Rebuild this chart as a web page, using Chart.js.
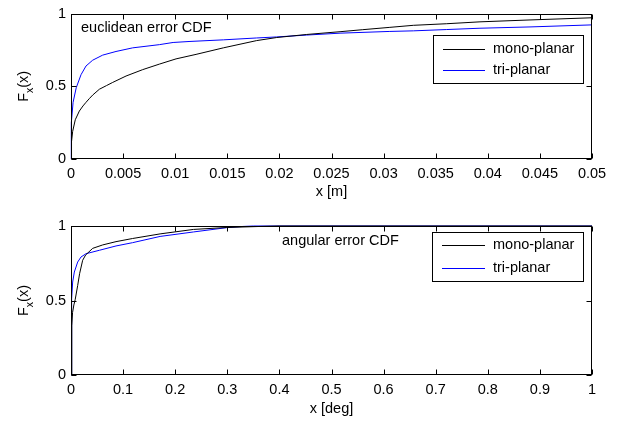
<!DOCTYPE html>
<html><head><meta charset="utf-8">
<script src="https://cdn.jsdelivr.net/npm/chart.js@4.4.0/dist/chart.umd.min.js"></script>
<style>
html,body{margin:0;padding:0;background:#fff;}
#wrap{position:relative;width:622px;height:425px;overflow:hidden;background:#fff;}
canvas{position:absolute;left:0;}
</style></head><body>
<div id="wrap">
<canvas id="c1" width="622" height="212" style="top:0px"></canvas>
<canvas id="c2" width="622" height="213" style="top:212px"></canvas>
</div>
<script>
// ---------- data ----------
const seriesNames = ['mono-planar', 'tri-planar'];

// euclidean error CDF (x in metres)
const euclidMonoX = [0, 0.00005, 0.00016, 0.00041, 0.0008, 0.00115, 0.00144, 0.00175, 0.00208, 0.00272, 0.0034, 0.004, 0.00528, 0.00688, 0.00848, 0.01008, 0.012, 0.01462, 0.01782, 0.01974, 0.02262, 0.02582, 0.028, 0.0306, 0.03285, 0.03606, 0.03925, 0.04405, 0.05];
const euclidMonoF = [0, 0.12, 0.19, 0.27, 0.33, 0.365, 0.39, 0.415, 0.44, 0.48, 0.505, 0.527, 0.571, 0.615, 0.653, 0.689, 0.72, 0.765, 0.815, 0.836, 0.857, 0.876, 0.89, 0.906, 0.92, 0.931, 0.944, 0.957, 0.972];
const euclidTriX = [0, 0.00003, 0.0002, 0.0005, 0.00096, 0.00144, 0.00208, 0.00304, 0.00432, 0.00592, 0.00848, 0.0098, 0.01142, 0.01462, 0.01782, 0.01974, 0.02262, 0.02582, 0.0306, 0.03285, 0.03606, 0.03925, 0.04405, 0.05];
const euclidTriF = [0, 0.25, 0.39, 0.49, 0.58, 0.64, 0.68, 0.715, 0.74, 0.765, 0.787, 0.802, 0.809, 0.82, 0.833, 0.84, 0.853, 0.866, 0.878, 0.882, 0.891, 0.9, 0.909, 0.923];

// angular error CDF (x in degrees)
const angMonoX = [0, 0.0015, 0.003, 0.0055, 0.008, 0.0128, 0.0165, 0.0224, 0.028, 0.0416, 0.0608, 0.0864, 0.118, 0.171, 0.235, 0.299, 0.363, 0.4, 1];
const angMonoF = [0, 0.33, 0.42, 0.47, 0.505, 0.6, 0.68, 0.77, 0.805, 0.85, 0.873, 0.895, 0.916, 0.947, 0.977, 0.99, 0.997, 1, 1];
const angTriX = [0, 0.0005, 0.0019, 0.0032, 0.0064, 0.0128, 0.0192, 0.0288, 0.0544, 0.0864, 0.118, 0.171, 0.235, 0.299, 0.33, 0.35, 1];
const angTriF = [0, 0.3, 0.512, 0.624, 0.691, 0.758, 0.792, 0.814, 0.837, 0.866, 0.888, 0.93, 0.96, 0.989, 0.997, 1, 1];

// ticks
const euclidTicks = [0, 0.005, 0.01, 0.015, 0.02, 0.025, 0.03, 0.035, 0.04, 0.045, 0.05];
const euclidTickLabels = ['0', '0.005', '0.01', '0.015', '0.02', '0.025', '0.03', '0.035', '0.04', '0.045', '0.05'];
const angTicks = [0, 0.1, 0.2, 0.3, 0.4, 0.5, 0.6, 0.7, 0.8, 0.9, 1];
const angTickLabels = ['0', '0.1', '0.2', '0.3', '0.4', '0.5', '0.6', '0.7', '0.8', '0.9', '1'];
const yTicks = [0, 0.5, 1];
const yTickLabels = ['0', '0.5', '1'];

const titles = { euclid: 'euclidean error CDF', ang: 'angular error CDF', xEuclid: 'x [m]', xAng: 'x [deg]' };
// ---------- end data ----------

const FAMILY = "'Liberation Sans', Arial, Helvetica, sans-serif";
const FS = 14.5;
const fontStr = (s) => s + 'px ' + FAMILY;
const colors = ['#000000', '#0000ff'];

function pts(xs, ys) { return xs.map((x, i) => ({ x: x, y: ys[i] })); }

const matlabPlugin = {
  id: 'matlab',
  afterDraw(chart, args, o) {
    const ctx = chart.ctx;
    const ca = chart.chartArea;
    const xs = chart.scales.x, ys = chart.scales.y;
    const L = Math.round(ca.left) + 0.5, R = Math.round(ca.right) - 0.5;
    const T = Math.round(ca.top) + 0.5, B = Math.round(ca.bottom) - 0.5;
    ctx.save();
    ctx.strokeStyle = '#000';
    ctx.lineWidth = 1;
    ctx.strokeRect(L, T, R - L, B - T);
    const tl = 5;
    ctx.beginPath();
    xs.ticks.forEach(t => {
      const px = Math.round(xs.getPixelForValue(t.value)) + 0.5;
      ctx.moveTo(px, B); ctx.lineTo(px, B - tl);
      ctx.moveTo(px, T); ctx.lineTo(px, T + tl);
    });
    ys.ticks.forEach(t => {
      const py = Math.round(ys.getPixelForValue(t.value)) + 0.5;
      ctx.moveTo(L, py); ctx.lineTo(L + tl, py);
      ctx.moveTo(R, py); ctx.lineTo(R - tl, py);
    });
    ctx.stroke();

    // note text
    ctx.fillStyle = '#000';
    ctx.font = fontStr(FS);
    ctx.textBaseline = 'middle';
    ctx.textAlign = 'left';
    ctx.fillText(o.note.text, o.note.x, o.note.y);

    // legend
    const lg = o.legend;
    ctx.fillStyle = '#fff';
    ctx.fillRect(lg.x1, lg.y1, lg.x2 - lg.x1, lg.y2 - lg.y1);
    ctx.strokeStyle = '#000';
    ctx.strokeRect(Math.round(lg.x1) + 0.5, Math.round(lg.y1) + 0.5, Math.round(lg.x2 - lg.x1), Math.round(lg.y2 - lg.y1));
    chart.data.datasets.forEach((ds, i) => {
      const ry = lg.rows[i];
      ctx.strokeStyle = ds.borderColor;
      ctx.beginPath();
      ctx.moveTo(lg.lx1, Math.round(ry) + 0.5);
      ctx.lineTo(lg.lx2, Math.round(ry) + 0.5);
      ctx.stroke();
      ctx.fillStyle = '#000';
      ctx.fillText(ds.label, lg.tx, ry);
    });

    // x title
    ctx.textAlign = 'center';
    ctx.fillText(o.xTitle.text, (ca.left + ca.right) / 2, o.xTitle.y);

    // y title F_x(x)
    const cy = (ca.top + ca.bottom) / 2;
    ctx.translate(o.yTitle.x, cy);
    ctx.rotate(-Math.PI / 2);
    ctx.textBaseline = 'alphabetic';
    ctx.textAlign = 'left';
    const subFS = 10.5;
    ctx.font = fontStr(FS);
    const wF = ctx.measureText('F').width;
    const wP = ctx.measureText('(x)').width;
    ctx.font = fontStr(subFS);
    const wS = ctx.measureText('x').width;
    const total = wF + wS + wP;
    let cx = -total / 2;
    ctx.font = fontStr(FS);
    ctx.fillText('F', cx, 0); cx += wF;
    ctx.font = fontStr(subFS);
    ctx.fillText('x', cx, 5); cx += wS;
    ctx.font = fontStr(FS);
    ctx.fillText('(x)', cx, 0);
    ctx.restore();
  }
};

function makeChart(id, cfg) {
  return new Chart(document.getElementById(id), {
    type: 'line',
    data: {
      datasets: [
        { label: seriesNames[0], data: pts(cfg.monoX, cfg.monoF), borderColor: colors[0], borderWidth: 1, pointRadius: 0, tension: 0, fill: false, clip: false },
        { label: seriesNames[1], data: pts(cfg.triX, cfg.triF), borderColor: colors[1], borderWidth: 1, pointRadius: 0, tension: 0, fill: false, clip: false }
      ]
    },
    options: {
      responsive: false,
      animation: false,
      devicePixelRatio: 1,
      events: [],
      layout: { padding: { left: 0, right: 30, top: cfg.padTop, bottom: 0 } },
      plugins: {
        legend: { display: false },
        tooltip: { enabled: false },
        matlab: {
          note: cfg.note,
          legend: cfg.legend,
          xTitle: cfg.xTitle,
          yTitle: { x: 28 }
        }
      },
      scales: {
        x: {
          type: 'linear', min: 0, max: cfg.xMax,
          grid: { display: false, drawTicks: false },
          border: { display: false },
          ticks: {
            autoSkip: false, maxRotation: 0, minRotation: 0, padding: 6, color: '#000',
            font: { family: FAMILY, size: FS },
            callback: (v, i) => cfg.xLabels[i]
          },
          afterBuildTicks: s => { s.ticks = cfg.xTicks.map(v => ({ value: v })); },
          afterFit: s => { s.height = cfg.xHeight; }
        },
        y: {
          type: 'linear', min: 0, max: 1,
          grid: { display: false, drawTicks: false },
          border: { display: false },
          ticks: {
            autoSkip: false, padding: 5, color: '#000',
            font: { family: FAMILY, size: FS },
            callback: (v, i) => yTickLabels[i]
          },
          afterBuildTicks: s => { s.ticks = yTicks.map(v => ({ value: v })); },
          afterFit: s => { s.width = 71; }
        }
      }
    },
    plugins: [matlabPlugin]
  });
}

makeChart('c1', {
  monoX: euclidMonoX, monoF: euclidMonoF, triX: euclidTriX, triF: euclidTriF,
  xMax: 0.05, xTicks: euclidTicks, xLabels: euclidTickLabels,
  padTop: 9, xHeight: 53,
  note: { text: titles.euclid, x: 81, y: 28 },
  legend: { x1: 433, y1: 35, x2: 583, y2: 83, rows: [48.5, 69.5], lx1: 443, lx2: 485, tx: 493 },
  xTitle: { text: titles.xEuclid, y: 192 }
});

makeChart('c2', {
  monoX: angMonoX, monoF: angMonoF, triX: angTriX, triF: angTriF,
  xMax: 1, xTicks: angTicks, xLabels: angTickLabels,
  padTop: 14, xHeight: 50,
  note: { text: titles.ang, x: 282, y: 28.5 },
  legend: { x1: 432, y1: 20, x2: 583, y2: 69, rows: [33, 55.5], lx1: 442, lx2: 485, tx: 493 },
  xTitle: { text: titles.xAng, y: 197 }
});
</script>
</body></html>
